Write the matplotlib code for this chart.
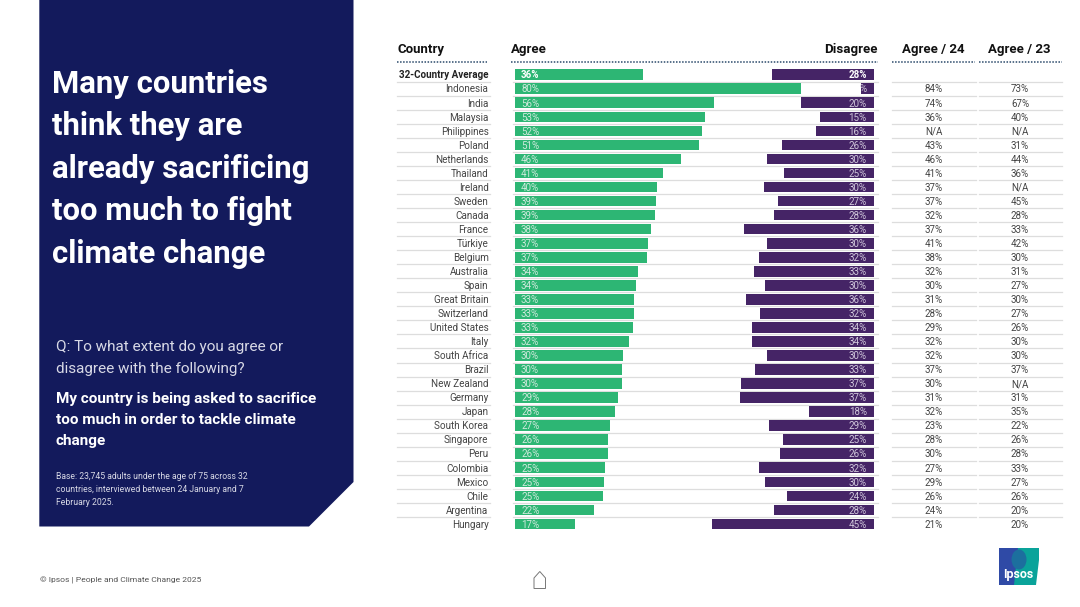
import matplotlib
matplotlib.use("Agg")
import matplotlib.pyplot as plt
from matplotlib.patches import Ellipse, Polygon, Rectangle
from matplotlib.transforms import blended_transform_factory

countries = ["32-Country Average", "Indonesia", "India", "Malaysia", "Philippines", "Poland",
             "Netherlands", "Thailand", "Ireland", "Sweden", "Canada", "France", "Türkiye",
             "Belgium", "Australia", "Spain", "Great Britain", "Switzerland", "United States",
             "Italy", "South Africa", "Brazil", "New Zealand", "Germany", "Japan", "South Korea",
             "Singapore", "Peru", "Colombia", "Mexico", "Chile", "Argentina", "Hungary"]
# bar lengths, they are not quite the printed labels
agree = [35.9, 80.0, 55.7, 53.2, 52.4, 51.5, 46.5, 41.4, 39.7, 39.4, 39.2, 38.1, 37.2,
         37.0, 34.6, 33.8, 33.4, 33.3, 33.1, 32.0, 30.4, 30.0, 30.0, 29.0, 28.1, 26.8,
         26.1, 26.0, 25.3, 25.0, 24.6, 22.2, 16.8]
disagree = [28.4, 3.5, 20.4, 15.0, 16.1, 25.6, 29.7, 25.1, 30.6, 26.7, 27.8, 36.2, 29.8,
            32.1, 33.4, 30.3, 35.8, 31.7, 34.0, 34.1, 29.8, 33.2, 37.0, 37.3, 18.1, 29.3,
            25.3, 26.1, 32.0, 30.4, 24.3, 27.8, 45.2]
agree_labels = ["36%", "80%", "56%", "53%", "52%", "51%", "46%", "41%", "40%", "39%", "39%",
                "38%", "37%", "37%", "34%", "34%", "33%", "33%", "33%", "32%", "30%", "30%",
                "30%", "29%", "28%", "27%", "26%", "26%", "25%", "25%", "25%", "22%", "17%"]
disagree_labels = ["28%", "%", "20%", "15%", "16%", "26%", "30%", "25%", "30%", "27%", "28%",
                   "36%", "30%", "32%", "33%", "30%", "36%", "32%", "34%", "34%", "30%", "33%",
                   "37%", "37%", "18%", "29%", "25%", "26%", "32%", "30%", "24%", "28%", "45%"]
agree_24 = ["", "84%", "74%", "36%", "N/A", "43%", "46%", "41%", "37%", "37%", "32%", "37%",
            "41%", "38%", "32%", "30%", "31%", "28%", "29%", "32%", "32%", "37%", "30%", "31%",
            "32%", "23%", "28%", "30%", "27%", "29%", "26%", "24%", "21%"]
agree_23 = ["", "73%", "67%", "40%", "N/A", "31%", "44%", "36%", "N/A", "45%", "28%", "33%",
            "42%", "30%", "31%", "27%", "30%", "27%", "26%", "30%", "30%", "37%", "N/A", "31%",
            "35%", "22%", "26%", "28%", "33%", "27%", "26%", "20%", "20%"]

title_lines = ["Many countries", "think they are", "already sacrificing", "too much to fight", "climate change"]

NAVY = "#131a5c"
GREEN = "#2db674"
PURPLE = "#452466"
GREY = "#dddddd"
TEXT = "#444444"

plt.rcParams["font.family"] = ["Roboto", "DejaVu Sans"]

fig = plt.figure(figsize=(10.8, 6.07), dpi=100)

# background layer works in pixels of the slide
bg = fig.add_axes([0, 0, 1, 1])
bg.set_xlim(0, 1080)
bg.set_ylim(607, 0)
bg.axis("off")

bg.add_patch(Polygon([(39.3, 0), (353.5, 0), (353.5, 482), (309, 526.5), (39.3, 526.5)],
                     closed=True, fc=NAVY, ec="none"))
for i, line in enumerate(title_lines):
    bg.text(52.5, 84 + i * 42.4, line, color="white", fontsize=22.4, fontweight="bold",
            va="center", ha="left")

bg.text(56, 347.5, "Q: To what extent do you agree or", color="#d8d9e6", fontsize=11, va="center")
bg.text(56, 369, "disagree with the following?", color="#d8d9e6", fontsize=11, va="center")
for y, line in zip([399, 420, 441], ["My country is being asked to sacrifice",
                                     "too much in order to tackle climate", "change"]):
    bg.text(56, y, line, color="white", fontsize=11, fontweight="bold", va="center")
for y, line in zip([476.5, 489.5, 502.5], ["Base: 23,745 adults under the age of 75 across 32",
                                           "countries, interviewed between 24 January and 7",
                                           "February 2025."]):
    bg.text(56, y, line, color="#d8d9e6", fontsize=6.2, va="center")
bg.text(39.5, 580.5, "© Ipsos | People and Climate Change 2025", color="#555555", fontsize=6.1, va="center")

# headers
hdr = dict(color="#111111", fontsize=9.5, fontweight="bold", va="center")
bg.text(397, 49.5, "Country", ha="left", **hdr)
bg.text(511, 49.5, "Agree", ha="left", **hdr)
bg.text(877.5, 49.5, "Disagree", ha="right", **hdr)
bg.text(933, 49.5, "Agree / 24", ha="center", **hdr)
bg.text(1019, 49.5, "Agree / 23", ha="center", **hdr)
for x0, x1 in [(397, 487), (511, 877.5), (892, 975), (978.5, 1062)]:
    bg.plot([x0, x1], [61.7, 61.7], color="#2b4a6b", lw=1.1, ls=(0, (1, 1)))

# bars, 3.58 px for one percent
ax = fig.add_axes([514.5 / 1080, 1 - 531 / 607, 359.2 / 1080, 463.3 / 607])
ax.patch.set_alpha(0)
ax.axis("off")
xmax = 359.2 / 3.58
ax.set_xlim(0, xmax)
ax.set_ylim(len(countries) - 0.5, -0.5)
rows = list(range(len(countries)))
ax.barh(rows, agree, height=0.76, color=GREEN)
ax.barh(rows, disagree, left=[xmax - d for d in disagree], height=0.76, color=PURPLE)

tr = blended_transform_factory(bg.transData, ax.transData)
for r in rows:
    weight = "bold" if r == 0 else "normal"
    y = r + 0.05
    ax.text(488.5, y, countries[r], transform=tr, ha="right", va="center", fontsize=7.15,
            fontweight=weight, color="#222222" if r == 0 else TEXT, clip_on=False)
    ax.text(521, y, agree_labels[r], transform=tr, ha="left", va="center", fontsize=7,
            fontweight=weight, color="white" if r == 0 else "#cfe9dc")
    ax.text(866.7, y, disagree_labels[r], transform=tr, ha="right", va="center", fontsize=7,
            fontweight=weight, color="white" if r == 0 else "#cfc6da")
    ax.text(933.7, y, agree_24[r], transform=tr, ha="center", va="center", fontsize=7, color=TEXT)
    ax.text(1020, y, agree_23[r], transform=tr, ha="center", va="center", fontsize=7, color=TEXT)
    if r < len(countries) - 1:
        for x0, x1 in [(397, 489.5), (513, 877.5), (892, 975.5), (978.5, 1062)]:
            bg.plot([x0, x1], [r + 0.5, r + 0.5], transform=tr, color=GREY, lw=0.9, zorder=0.5)

# home icon
bg.add_patch(Polygon([(534, 578), (539.8, 571.5), (545.5, 578), (545.5, 588.5), (534, 588.5)],
                     closed=True, fc="white", ec="#777777", lw=0.7))

# logo
bg.add_patch(Rectangle((999, 548), 20, 37, fc="#2f4aa6", ec="none"))
bg.add_patch(Polygon([(1018, 548), (1039, 548), (1039, 560), (1036, 585), (1014, 585)],
                     closed=True, fc="#0aa39a", ec="none"))
bg.add_patch(Ellipse((1019, 559.5), 15, 20, fc="#1c6f9e", ec="none"))
bg.text(1018.5, 574.5, "Ipsos", color="white", fontsize=9, fontweight="bold", ha="center", va="center")

fig.savefig("out.png", dpi=100)
